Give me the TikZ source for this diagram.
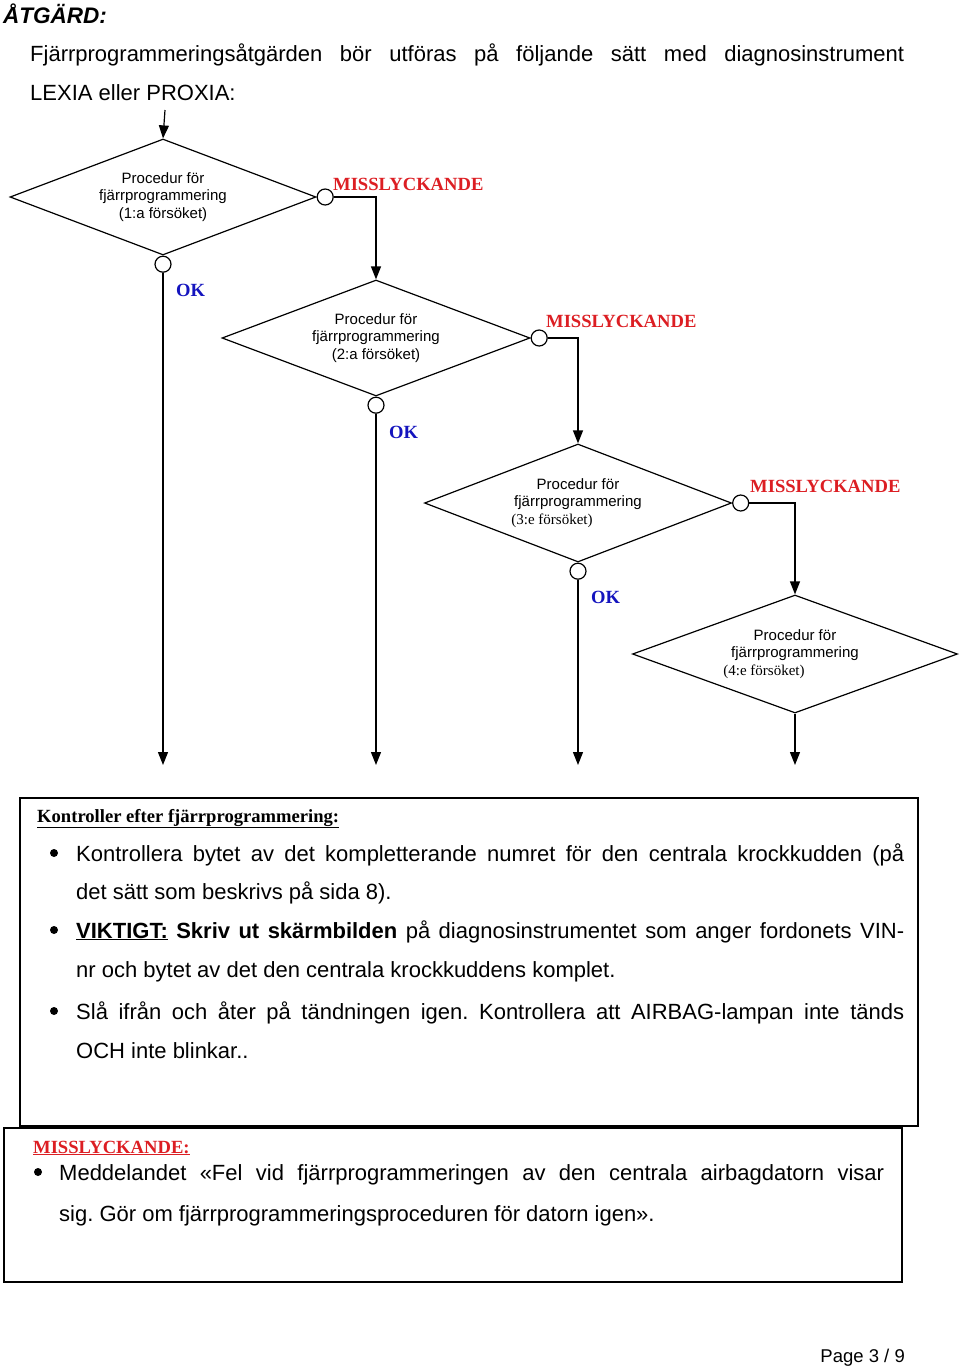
\documentclass[tikz,border=0pt]{standalone}
\usepackage{fontspec}
\setmainfont{Liberation Sans}
\newfontfamily\timesf{Liberation Serif}
\usetikzlibrary{shapes.geometric,arrows.meta}
\definecolor{failred}{RGB}{220,30,35}
\definecolor{okblue}{RGB}{20,20,190}
\newcommand{\fs}[2]{\fontsize{#1}{#2}\selectfont}
\newcommand{\jline}[2]{\makebox[#1][s]{#2}}
\frenchspacing
\tikzset{
  proc/.style={draw,diamond,aspect=2.6,line width=1.2pt,inner sep=0pt,align=center,font=\fs{15}{17.5}},
  knob/.style={draw,circle,line width=1.2pt,fill=white,minimum size=16pt,inner sep=0pt},
  arr/.style={line width=1.2pt,-{Triangle[length=13pt,width=10pt]}},
  fail/.style={anchor=base west,inner sep=0pt,text=failred,font=\timesf\bfseries\fs{18.6}{20}},
  okay/.style={anchor=base west,inner sep=0pt,text=okblue,font=\timesf\bfseries\fs{18.6}{20}},
  txt/.style={anchor=base west,inner sep=0pt,font=\fs{22}{26}},
  dot/.style={circle,fill,inner sep=0pt,minimum size=8pt},
  frame/.style={draw,line width=2.8pt}
}
\begin{document}
\begin{tikzpicture}[x=1pt,y=-1pt]
\useasboundingbox (0,0) rectangle (960,1366);
% heading
\node[anchor=base west,inner sep=0pt,font=\bfseries\itshape\fs{22.5}{26}] (head) at (3,23) {ÅTGÄRD:};
\node[txt] (intro1) at (30,61) {\jline{874pt}{Fjärrprogrammeringsåtgärden bör utföras på följande sätt med diagnosinstrument}};
\node[txt] (intro2) at (30,100) {LEXIA eller PROXIA:};
% the four attempts
\node[proc,minimum width=306pt,minimum height=116pt] (d1) at (163,197) {Procedur för\\fjärrprogrammering\\(1:a försöket)};
\node[proc,minimum width=308pt,minimum height=116pt] (d2) at (376,338) {Procedur för\\fjärrprogrammering\\(2:a försöket)};
\node[proc,minimum width=307pt,minimum height=118pt] (d3) at (578,503) {Procedur för\\fjärrprogrammering\\\hspace*{-52pt}\timesf (3:e försöket)};
\node[proc,minimum width=325pt,minimum height=118pt] (d4) at (795,654) {Procedur för\\fjärrprogrammering\\\hspace*{-62pt}\timesf (4:e försöket)};
\foreach \i in {1,2,3}{
  \node[knob,anchor=west] (c\i r) at (d\i.east) {};
  \node[knob,anchor=north] (c\i b) at (d\i.south) {};
}
% connectors
\coordinate (in) at (165,110);
\draw[arr] (in) -- (d1.north);
\draw[arr] (c1r.east) -| (d2.north);
\draw[arr] (c2r.east) -| (d3.north);
\draw[arr] (c3r.east) -| (d4.north);
\foreach \i in {1,2,3}{
  \coordinate (e\i) at (c\i b |- 0,765);
  \draw[arr] (c\i b.south) -- (e\i);
}
\coordinate (e4) at (d4.south |- 0,765);
\draw[arr] (d4.south) -- (e4);
% branch labels
\node[fail] (f1) at (333,190) {MISSLYCKANDE};
\node[fail] (f2) at (546,327) {MISSLYCKANDE};
\node[fail] (f3) at (750,492) {MISSLYCKANDE};
\node[okay] (k1) at (176,296) {OK};
\node[okay] (k2) at (389,438) {OK};
\node[okay] (k3) at (591,603) {OK};
% checks after reprogramming
\draw[frame] (20,798) rectangle (918,1126);
\node[anchor=base west,inner sep=0pt,font=\timesf\bfseries\fs{18.6}{20}] (chk) at (37,822) {\underline{Kontroller efter fjärrprogrammering:}};
\node[dot] (b1) at (54,853) {};
\node[txt] (l1) at (76,861) {\jline{828pt}{Kontrollera bytet av det kompletterande numret för den centrala krockkudden (på}};
\node[txt] (l2) at (76,899) {det sätt som beskrivs på sida 8).};
\node[dot] (b2) at (54,930) {};
\node[txt] (l3) at (76,938) {\jline{828pt}{\textbf{\underline{VIKTIGT:} Skriv ut skärmbilden} på diagnosinstrumentet som anger fordonets VIN-}};
\node[txt] (l4) at (76,977) {nr och bytet av det den centrala krockkuddens komplet.};
\node[dot] (b3) at (54,1011) {};
\node[txt] (l5) at (76,1019) {\jline{828pt}{Slå ifrån och åter på tändningen igen. Kontrollera att AIRBAG-lampan inte tänds}};
\node[txt] (l6) at (76,1058) {OCH inte blinkar..};
% failure box
\draw[frame] (4,1128) rectangle (902,1282);
\node[fail] (miss) at (33,1153) {\underline{MISSLYCKANDE:}};
\node[dot] (b4) at (38,1172) {};
\node[txt] (m1) at (59,1180) {\jline{825pt}{Meddelandet «Fel vid fjärrprogrammeringen av den centrala airbagdatorn visar}};
\node[txt] (m2) at (59,1221) {sig. Gör om fjärrprogrammeringsproceduren för datorn igen».};
\node[anchor=base east,inner sep=0pt,font=\fs{18.5}{20}] (page) at (905,1362) {Page 3 / 9};
\end{tikzpicture}
\end{document}
